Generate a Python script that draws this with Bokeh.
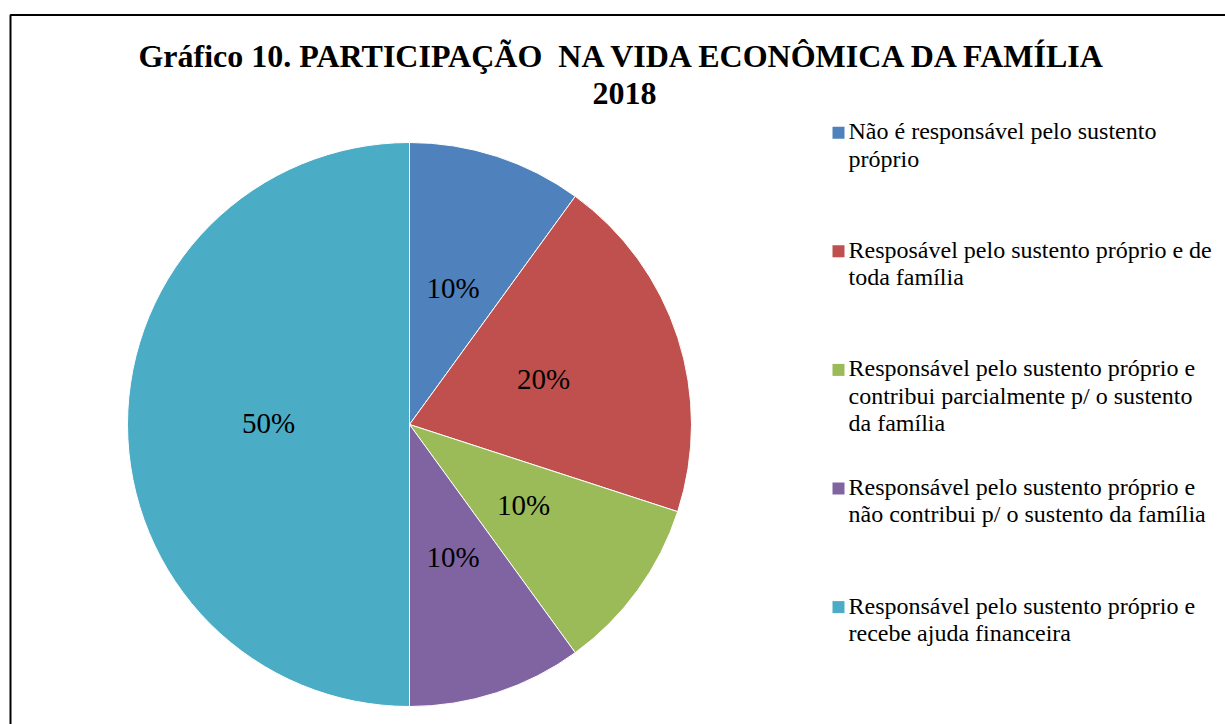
import math
from bokeh.plotting import figure
from bokeh.models import Range1d, ColumnDataSource
from bokeh.core.properties import value
from bokeh.embed import file_html
from bokeh.resources import INLINE

# ---- data ----
categories = [
    "Não é responsável pelo sustento\npróprio",
    "Resposável pelo sustento próprio e de\ntoda família",
    "Responsável pelo sustento próprio e\ncontribui parcialmente p/ o sustento\nda família",
    "Responsável pelo sustento próprio e\nnão contribui p/ o sustento da família",
    "Responsável pelo sustento próprio e\nrecebe ajuda financeira",
]
values = [10, 20, 10, 10, 50]
colors = ["#4F81BD", "#C0504D", "#9BBB59", "#8064A2", "#4BACC6"]
title_lines = ["Gráfico 10. PARTICIPAÇÃO\u00a0 NA VIDA ECONÔMICA DA FAMÍLIA", "2018"]

W, H = 1225, 724
FONT = "Liberation Serif"

p = figure(width=W, height=H, output_backend="svg", toolbar_location=None,
           x_axis_type=None, y_axis_type=None, min_border=0,
           x_range=Range1d(0, W), y_range=Range1d(0, H))
p.outline_line_color = None
p.background_fill_color = "white"
p.border_fill_color = "white"

# frame border (left + top; right/bottom cut off in reference)
p.line(x=[10, 10, W + 20], y=[-20, 709.5, 709.5], line_color="black", line_width=2)

# pie
cx, cy, R = 409, 300, 282
total = float(sum(values))
starts, ends, lx, ly, labels = [], [], [], [], []
cum = 0.0
for v in values:
    a0 = math.pi / 2 - 2 * math.pi * cum / total
    a1 = a0 - 2 * math.pi * v / total
    starts.append(a0)
    ends.append(a1)
    mid = (a0 + a1) / 2
    lx.append(cx + 0.5 * R * math.cos(mid))
    ly.append(cy + 0.5 * R * math.sin(mid))
    labels.append(f"{round(100 * v / total)}%")
    cum += v

src = ColumnDataSource(dict(start=starts, end=ends, color=colors))
p.wedge(x=cx, y=cy, radius=R, start_angle="start", end_angle="end",
        direction="clock", fill_color="color", line_color="white",
        line_width=1, source=src)

p.text(x=lx, y=[y + 2 for y in ly], text=labels, text_font=value(FONT),
       text_font_size="29px", text_color="black", text_align="center",
       text_baseline="middle")

# title
p.text(x=[624, 624], y=[669, 631], text=title_lines, text_font=value(FONT),
       text_font_size="32px", text_font_style="bold", text_color="black",
       text_align="center", text_baseline="alphabetic")

# legend
leg_x_sq = 838
leg_x_txt = 848
first_base = 724 - 138.7
step = 118.6
line_h = 27.4
tx, ty, tt = [], [], []
sqx, sqy = [], []
for i, lab in enumerate(categories):
    b = first_base - i * step
    sqx.append(leg_x_sq)
    sqy.append(b + 6.5)
    for j, ln in enumerate(lab.split("\n")):
        tx.append(leg_x_txt)
        ty.append(b + 8 - j * line_h)
        tt.append(ln)
p.rect(x=sqx, y=sqy, width=12, height=12, fill_color=colors, line_color=None)
p.text(x=tx, y=ty, text=tt, text_font=value(FONT), text_font_size="24px",
       text_color="black", text_align="left", text_baseline="alphabetic")

open("out.html", "w").write(file_html(p, INLINE))
